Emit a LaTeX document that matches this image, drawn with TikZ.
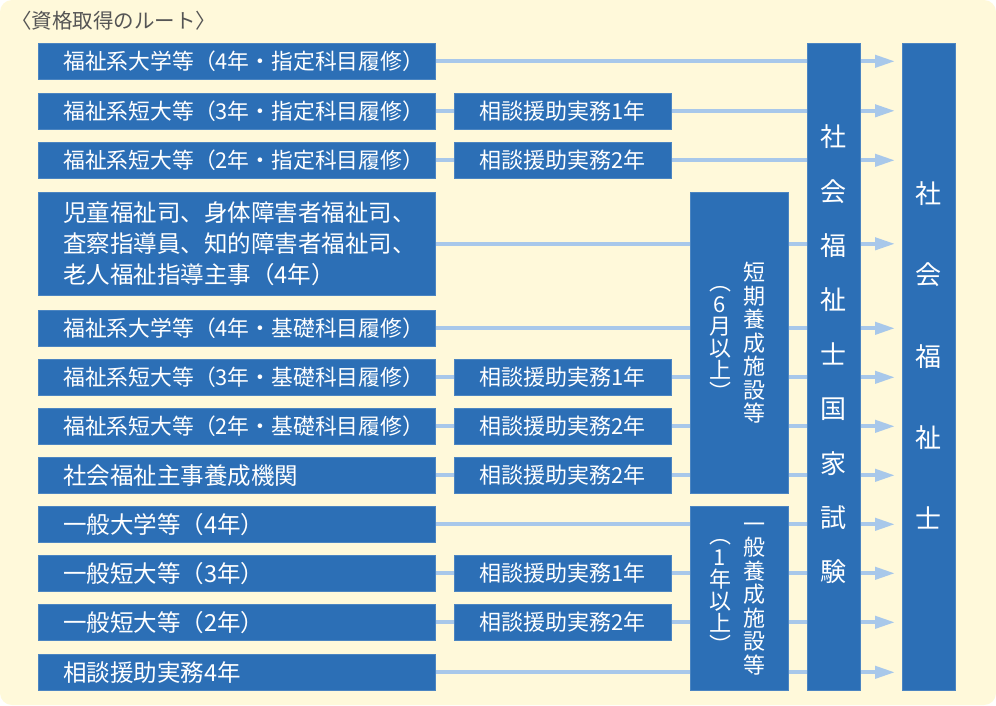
\documentclass[tikz,border=0pt]{standalone}
\usepackage{fontspec}
\setmainfont{Noto Sans CJK JP}
\usetikzlibrary{arrows.meta}
\definecolor{bgcream}{HTML}{FFF9DA}
\definecolor{boxblue}{HTML}{2C6FB6}
\definecolor{linkblue}{HTML}{A8C8EA}
\definecolor{titlegray}{HTML}{555555}
\pgfdeclarelayer{bg}
\pgfsetlayers{bg,main}
\begin{document}
\begin{tikzpicture}[x=1pt,y=-1pt,
  boxbase/.style={fill=boxblue, draw=boxblue!85!white, line width=0.6pt, text=white, inner sep=0pt, anchor=north west},
  srcbox/.style={boxbase, minimum width=397pt, minimum height=36pt, text width=347pt, inner xsep=25pt, align=left, font=\fontsize{23.5}{31}\selectfont},
  longsrc/.style={srcbox, font=\fontsize{21.8}{31}\selectfont},
  midbox/.style={boxbase, minimum width=217pt, minimum height=36pt, font=\fontsize{22}{26}\selectfont},
  colbox/.style={boxbase, minimum width=53pt, minimum height=647pt},
  facbox/.style={boxbase, minimum width=98pt},
  vtext/.style={text=white, inner sep=0pt, align=center},
  link/.style={draw=linkblue, line width=4pt},
  arr/.style={link, -{Triangle[length=20pt,width=12pt]}, shorten >=7pt},
]
\useasboundingbox (0,0) rectangle (996,705);

\node[anchor=west, inner sep=0pt, text=titlegray, font=\fontsize{20.5}{24}\selectfont] (title) at (11,21) {〈資格取得のルート〉};

% source boxes
\node[longsrc] (L1) at (38,43) {福祉系大学等（4年・指定科目履修）};
\node[longsrc] (L2) at (38,92.5) {福祉系短大等（3年・指定科目履修）};
\node[longsrc] (L3) at (38,142) {福祉系短大等（2年・指定科目履修）};
\node[srcbox, minimum height=103pt] (L4) at (38,192) {児童福祉司、身体障害者福祉司、\\査察指導員、知的障害者福祉司、\\老人福祉指導主事（4年）};
\node[longsrc] (L5) at (38,310) {福祉系大学等（4年・基礎科目履修）};
\node[longsrc] (L6) at (38,359) {福祉系短大等（3年・基礎科目履修）};
\node[longsrc] (L7) at (38,408) {福祉系短大等（2年・基礎科目履修）};
\node[srcbox] (L8) at (38,457) {社会福祉主事養成機関};
\node[srcbox] (L9) at (38,506) {一般大学等（4年）};
\node[srcbox] (L10) at (38,555) {一般短大等（3年）};
\node[srcbox] (L11) at (38,604) {一般短大等（2年）};
\node[srcbox] (L12) at (38,654) {相談援助実務4年};

% practice boxes
\node[midbox] (M2) at (454,92.5) {相談援助実務1年};
\node[midbox] (M3) at (454,142) {相談援助実務2年};
\node[midbox] (M6) at (454,359) {相談援助実務1年};
\node[midbox] (M7) at (454,408) {相談援助実務2年};
\node[midbox] (M8) at (454,457) {相談援助実務2年};
\node[midbox] (M10) at (454,555) {相談援助実務1年};
\node[midbox] (M11) at (454,604) {相談援助実務2年};

% training facilities
\node[facbox, minimum height=301pt] (S) at (690,192) {};
\node[vtext, font=\fontsize{22}{23.5}\selectfont] (S1) at (754,343) {短\\期\\養\\成\\施\\設\\等};
\node[vtext, font=\fontsize{22}{22}\selectfont] (S2) at (720,343) {︵\\6\\月\\以\\上\\︶};
\node[facbox, minimum height=184pt] (G) at (690,506) {};
\node[vtext, font=\fontsize{22}{23.5}\selectfont] (G1) at (754,599) {一\\般\\養\\成\\施\\設\\等};
\node[vtext, font=\fontsize{22}{22}\selectfont] (G2) at (720,596) {︵\\1\\年\\以\\上\\︶};

% exam and qualification
\node[colbox] (E) at (807,43) {};
\node[vtext, font=\fontsize{26}{54.4}\selectfont] (Et) at (833.5,354.5) {社\\会\\福\\祉\\士\\国\\家\\試\\験};
\node[colbox] (F) at (902,43) {};
\node[vtext, font=\fontsize{26}{81.25}\selectfont] (Ft) at (928.5,355.5) {社\\会\\福\\祉\\士};

\begin{pgfonlayer}{bg}
\fill[white] (0,0) rectangle (996,705);
\fill[bgcream, rounded corners=12pt] (0,0) rectangle (996,705);
\foreach \i in {1,...,12} \draw[link] (L\i.east) -- (L\i.east -| E.west);
\end{pgfonlayer}

\foreach \i in {1,...,12} \draw[arr] (L\i.east -| E.east) -- (L\i.east -| F.west);
\end{tikzpicture}
\end{document}
